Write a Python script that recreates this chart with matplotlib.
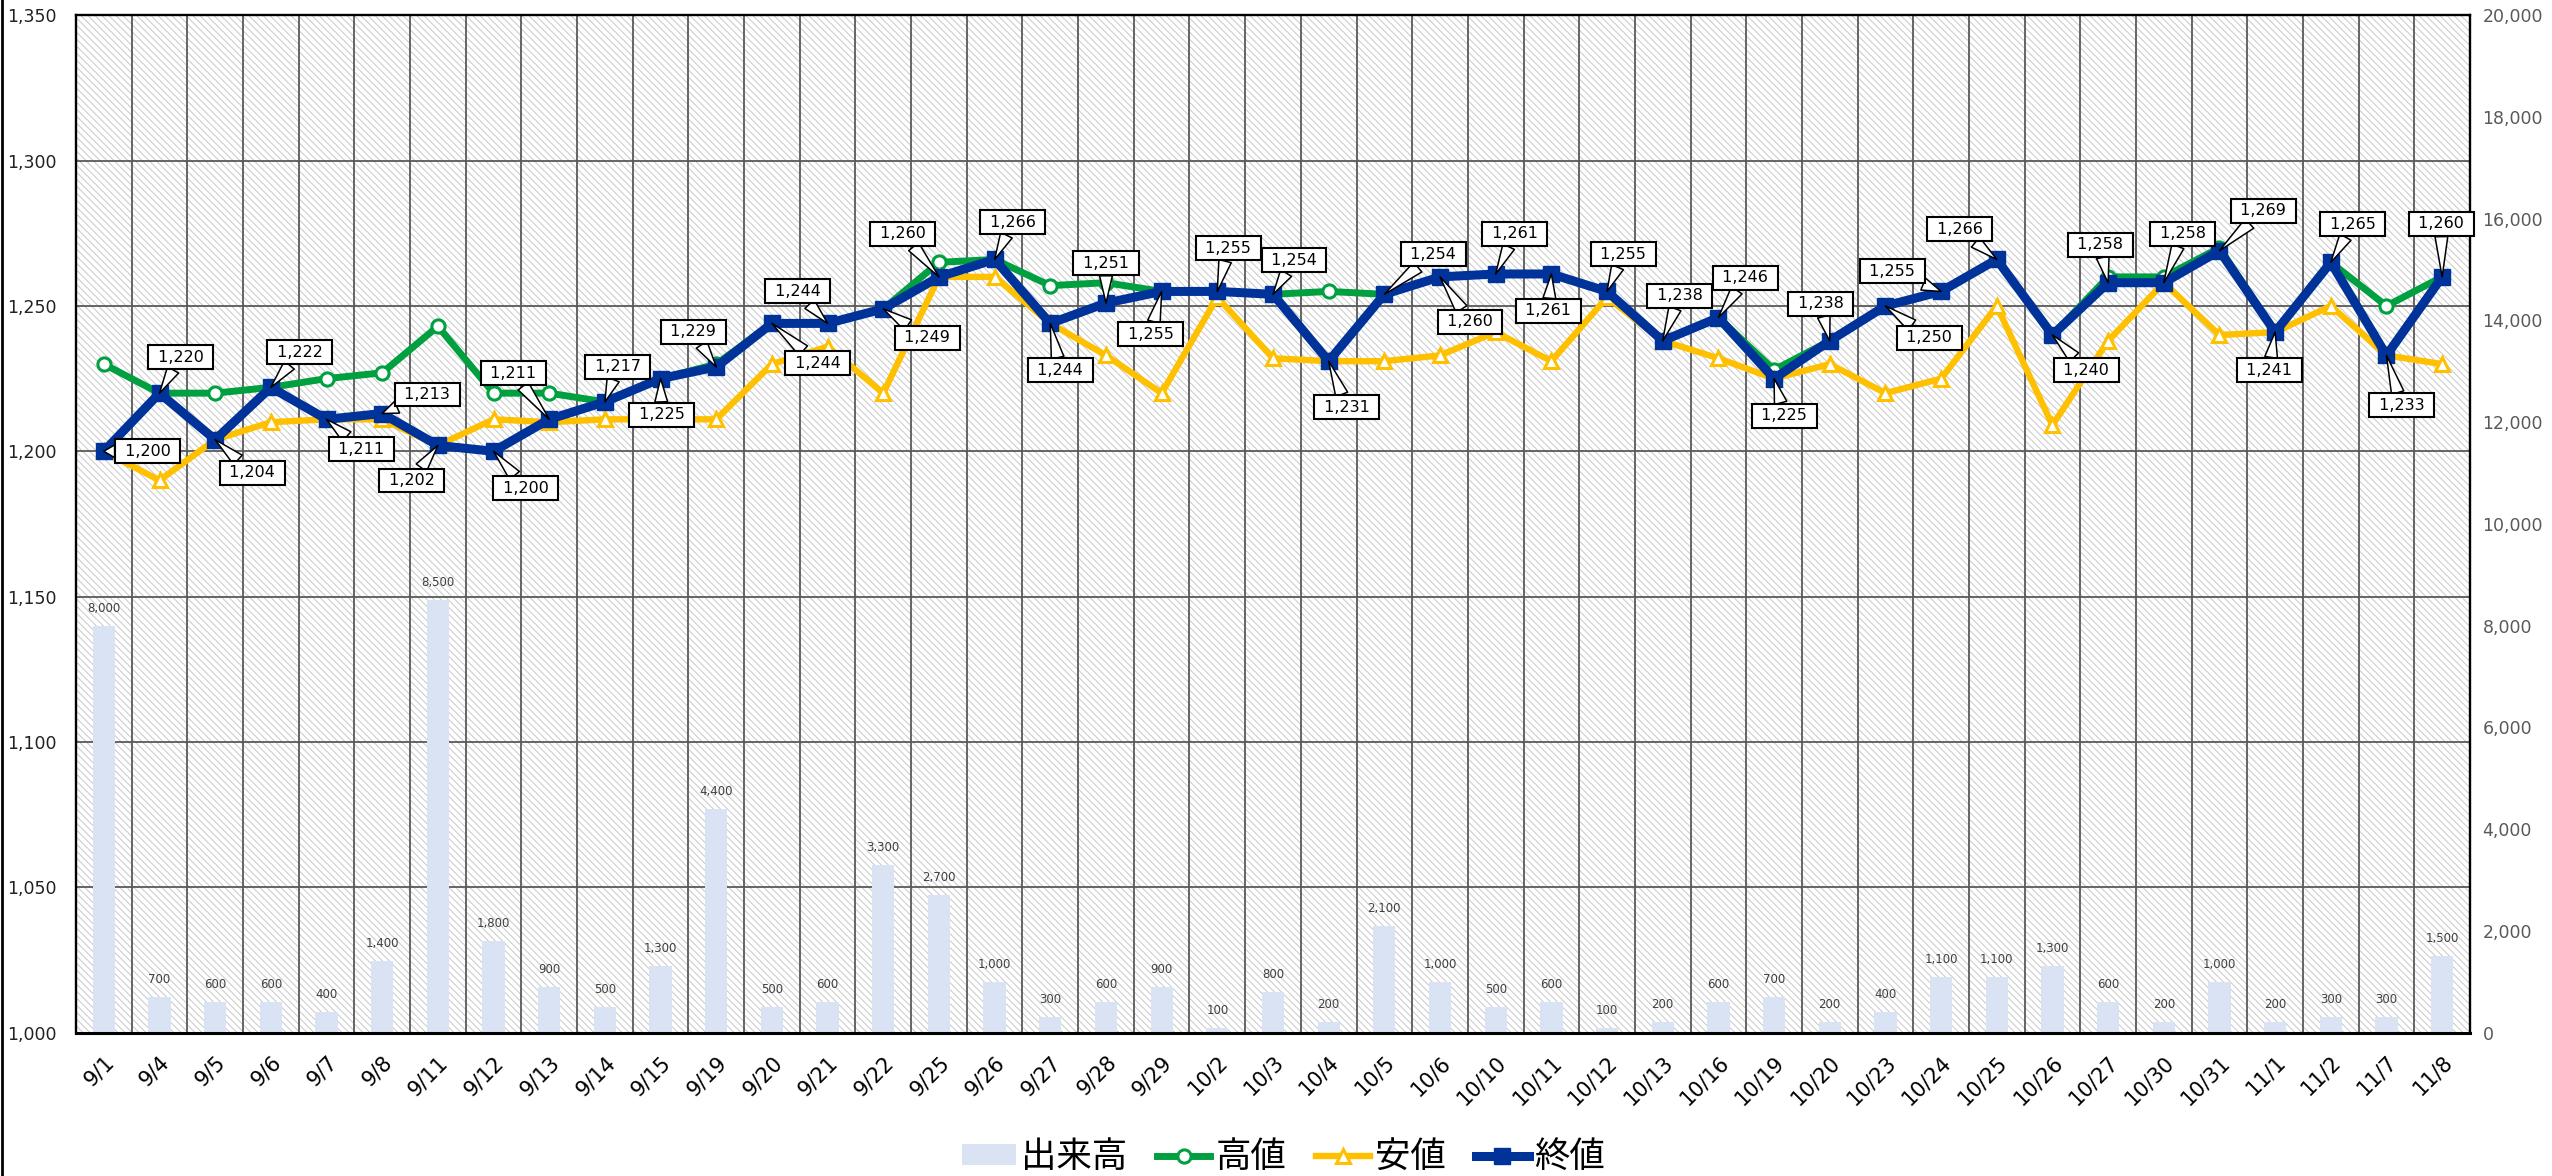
import numpy as np
import matplotlib
matplotlib.use('Agg')
import matplotlib.pyplot as plt
from matplotlib.lines import Line2D
from matplotlib.collections import LineCollection
from matplotlib.transforms import Affine2D
from matplotlib.ticker import FuncFormatter, MultipleLocator

# ---------------- data ----------------
dates = ['9/1', '9/4', '9/5', '9/6', '9/7', '9/8', '9/11', '9/12', '9/13', '9/14', '9/15',
         '9/19', '9/20', '9/21', '9/22', '9/25', '9/26', '9/27', '9/28', '9/29', '10/2',
         '10/3', '10/4', '10/5', '10/6', '10/10', '10/11', '10/12', '10/13', '10/16',
         '10/19', '10/20', '10/23', '10/24', '10/25', '10/26', '10/27', '10/30', '10/31',
         '11/1', '11/2', '11/7', '11/8']
volume = [8000, 700, 600, 600, 400, 1400, 8500, 1800, 900, 500, 1300, 4400, 500, 600,
          3300, 2700, 1000, 300, 600, 900, 100, 800, 200, 2100, 1000, 500, 600, 100, 200,
          600, 700, 200, 400, 1100, 1100, 1300, 600, 200, 1000, 200, 300, 300, 1500]
high = [1230, 1220, 1220, 1222, 1225, 1227, 1243, 1220, 1220, 1217, 1225, 1230, 1244, 1244,
        1249, 1265, 1266, 1257, 1258, 1255, 1255, 1254, 1255, 1254, 1260, 1261, 1261, 1255,
        1238, 1246, 1228, 1238, 1250, 1255, 1266, 1240, 1260, 1260, 1270, 1241, 1265, 1250, 1260]
low = [1200, 1190, 1204, 1210, 1211, 1211, 1202, 1211, 1210, 1211, 1211, 1211, 1230, 1236,
       1220, 1260, 1260, 1244, 1233, 1220, 1253, 1232, 1231, 1231, 1233, 1241, 1231, 1253,
       1238, 1232, 1225, 1230, 1220, 1225, 1250, 1209, 1238, 1258, 1240, 1241, 1250, 1233, 1230]
close = [1200, 1220, 1204, 1222, 1211, 1213, 1202, 1200, 1211, 1217, 1225, 1229, 1244, 1244,
         1249, 1260, 1266, 1244, 1251, 1255, 1255, 1254, 1231, 1254, 1260, 1261, 1261, 1255,
         1238, 1246, 1225, 1238, 1250, 1255, 1266, 1240, 1258, 1258, 1269, 1241, 1265, 1233, 1260]

# callout placement (pixel offsets of the label box from its point: dx right, dy down)
label_offsets = [(44, 0), (21, -36), (37, 33), (29, -35), (35, 30), (45, -19), (-26, 35),
                 (32, 37), (-36, -46), (13, -35), (1, 36), (-23, -35), (46, 40), (-30, -32),
                 (44, 29), (-36, -43), (18, -37), (10, 47), (0, -40), (-11, 43), (11, -43),
                 (21, -34), (18, 46), (49, -40), (30, 45), (19, -40), (-3, 37), (16, -37),
                 (17, -45), (27, -40), (10, 37), (-9, -37), (44, 32), (-49, -20), (-37, -30),
                 (34, 35), (-8, -38), (19, -49), (44, -40), (-6, 38), (22, -38), (15, 50),
                 (-1, -53)]

# ---------------- style ----------------
GREEN = '#00A040'
YELLOW = '#FFC000'
NAVY = '#003399'
BAR = '#DAE3F3'
GRID = '#595959'

plt.rcParams['font.family'] = ['DejaVu Sans']

W, H = 2552, 1176
fig = plt.figure(figsize=(W / 100, H / 100), dpi=100)
left, right, bottom, top = 76 / W, 2470 / W, (H - 1032.6) / H, (H - 15.3) / H
axw_px, axh_px = (right - left) * W, (top - bottom) * H

n = len(dates)
x = np.arange(n)

# background axis (price scale, left ticks, grid, hatch)
ax = fig.add_axes([left, bottom, right - left, top - bottom])
ax.set_zorder(0)
# diagonal hatch texture of the plot area (decoration, in pixel units of the axes box)
step = 7
starts = np.arange(-axh_px, axw_px + step, step)
segs = [[(s, axh_px), (s + axh_px, 0)] for s in starts]
hatch = LineCollection(segs, colors='#c8c8c8', linewidths=0.7, zorder=0.1,
                       transform=Affine2D().scale(1 / axw_px, 1 / axh_px) + ax.transAxes)
ax.add_collection(hatch, autolim=False)
ax.set_xlim(-0.5, n - 0.5)
ax.set_ylim(1000, 1350)
ax.yaxis.set_major_locator(MultipleLocator(50))
ax.yaxis.set_major_formatter(FuncFormatter(lambda v, p: f'{v:,.0f}'))
ax.set_xticks(x)
ax.set_xticks(np.arange(-0.5, n, 1), minor=True)
ax.set_xticklabels(dates, fontsize=15, rotation=45, ha='right', va='top',
                   rotation_mode='anchor')
ax.set_axisbelow(True)
ax.grid(axis='y', which='major', color=GRID, lw=1.3)
ax.grid(axis='x', which='minor', color=GRID, lw=1.3)
ax.tick_params(axis='x', which='both', length=0, pad=14)
ax.tick_params(axis='y', length=0, pad=14, labelsize=12.5, labelcolor='#222222')

# volume axis (right)
ax_vol = ax.twinx()
ax_vol.set_zorder(1)
ax_vol.patch.set_visible(False)
ax_vol.set_ylim(0, 20000)
ax_vol.yaxis.set_major_locator(MultipleLocator(2000))
ax_vol.yaxis.set_major_formatter(FuncFormatter(lambda v, p: f'{v:,.0f}'))
ax_vol.tick_params(axis='y', length=0, pad=9, labelsize=12.5, labelcolor='#595959')
bars = ax_vol.bar(x, volume, width=0.4, color=BAR, zorder=2, label='出来高')
for i, v in enumerate(volume):
    ax_vol.annotate(f'{v:,}', xy=(i, v), xytext=(0, 11), textcoords='offset pixels',
                    ha='center', va='bottom', fontsize=8.5, color='#404040')

# price lines axis
ax_line = ax.twinx()
ax_line.set_zorder(2)
ax_line.patch.set_visible(False)
ax_line.set_ylim(1000, 1350)
ax_line.tick_params(axis='y', which='both', right=False, labelright=False,
                    left=False, labelleft=False)
h_line, = ax_line.plot(x, high, color=GREEN, lw=5, marker='o', ms=9.5, mfc='white',
                       mec=GREEN, mew=2.2, zorder=3, label='高値')
l_line, = ax_line.plot(x, low, color=YELLOW, lw=4.6, marker='^', ms=10, mfc='white',
                       mec=YELLOW, mew=2.2, zorder=4, label='安値')
c_line, = ax_line.plot(x, close, color=NAVY, lw=6.5, marker='s', ms=11, mfc=NAVY,
                       mec=NAVY, zorder=5, label='終値')

for i, (v, (dx, dy)) in enumerate(zip(close, label_offsets)):
    ax_line.annotate(f' {v:,} ', xy=(i, v), xytext=(dx, -dy), textcoords='offset pixels',
                     ha='center', va='center', fontsize=11.5, color='black',
                     bbox=dict(boxstyle='square,pad=0.28', fc='white', ec='black', lw=1.5),
                     arrowprops=dict(arrowstyle='wedge,tail_width=0.8', fc='white',
                                     ec='black', lw=1.1, shrinkA=0, shrinkB=0),
                     zorder=10, annotation_clip=False)

for a in (ax, ax_vol):
    for s in a.spines.values():
        s.set_visible(False)
for name, s in ax_line.spines.items():
    s.set_color('black')
    s.set_linewidth(2.2 if name == 'bottom' else 1.7)
    s.set_zorder(6)

# left figure border
fig.add_artist(Line2D([0.0006, 0.0006], [0, 1], transform=fig.transFigure,
                      color='black', lw=2))

fig.legend([bars, h_line, l_line, c_line], ['出来高', '高値', '安値', '終値'],
           loc='center', bbox_to_anchor=(0.503, 19 / H), ncol=4, frameon=False,
           prop={'family': ['Noto Sans CJK JP', 'DejaVu Sans'], 'size': 25.5},
           handlelength=1.5, handletextpad=0.15, columnspacing=0.85,
           handleheight=0.5, borderpad=0, numpoints=1)

fig.savefig('out.png', dpi=100)
